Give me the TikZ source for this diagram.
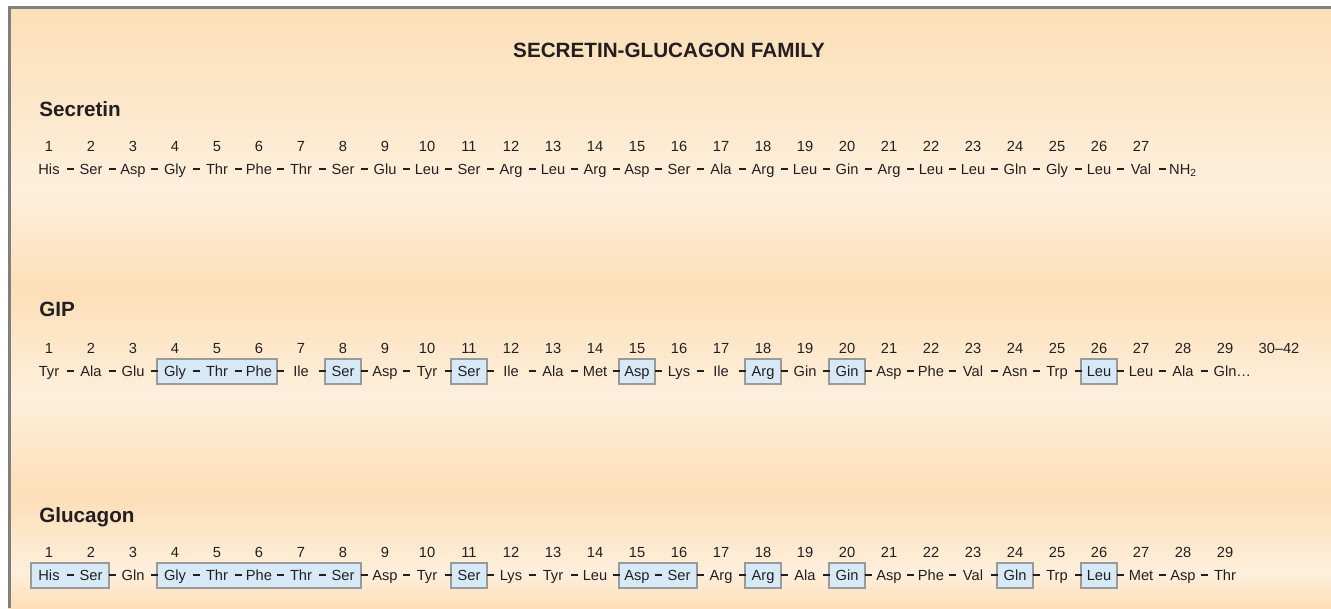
\documentclass[tikz,border=0pt]{standalone}
\usepackage{fontspec}
\setmainfont{Liberation Sans}
\usetikzlibrary{calc, backgrounds}
\definecolor{framegray}{HTML}{7F7F7F}
\definecolor{peachdark}{HTML}{FCDFB7}
\definecolor{peachlight}{HTML}{FEEFDC}
\definecolor{ink}{HTML}{231F20}
\definecolor{boxblue}{HTML}{D7E9F7}
\definecolor{boxline}{HTML}{9A9A9A}

\begin{document}
\begin{tikzpicture}[
    x=0.75pt, y=-0.75pt,
    font=\fontsize{11}{13}\selectfont,
    text=ink,
    % Styles
    familytitle/.style={
        font=\fontsize{15.5}{18}\selectfont\bfseries,
        anchor=base,
        inner sep=0pt
    },
    peptide/.style={
        font=\fontsize{15.5}{18}\selectfont\bfseries,
        anchor=base west,
        inner sep=0pt
    },
    posnum/.style={anchor=base, inner sep=0pt},
    residue/.style={anchor=base, inner sep=0pt},
    bond/.style={draw=ink, line width=1.4pt},
    homolog/.style={
        draw=boxline,
        fill=boxblue,
        line width=0.9pt
    },
    band/.style={draw=none}
]
    \useasboundingbox (0,0) rectangle (1331,608);

    % ================= TITLE =================
    \node[familytitle] (title) at (669,57) {SECRETIN-GLUCAGON FAMILY};

    % ================= SECRETIN =================
    \node[peptide] (secretin) at (39,116) {Secretin};
    \foreach \res [count=\i] in {His,Ser,Asp,Gly,Thr,Phe,Thr,Ser,Glu,Leu,Ser,Arg,Leu,Arg,Asp,Ser,Ala,Arg,Leu,Gin,Arg,Leu,Leu,Gln,Gly,Leu,Val} {
        \node[posnum] (ns\i) at ({49+(\i-1)*42},151) {\i};
        \node[residue] (s\i) at ({49+(\i-1)*42},174) {\res};
    }
    \node[residue] (s28) at (1183,174) {NH\textsubscript{2}};

    % ================= GIP =================
    \node[peptide] (gip) at (39,316) {GIP};
    \foreach \res [count=\i] in {Tyr,Ala,Glu,Gly,Thr,Phe,Ile,Ser,Asp,Tyr,Ser,Ile,Ala,Met,Asp,Lys,Ile,Arg,Gin,Gin,Asp,Phe,Val,Asn,Trp,Leu,Leu,Ala} {
        \node[posnum] (ng\i) at ({49+(\i-1)*42},353) {\i};
        \node[residue] (g\i) at ({49+(\i-1)*42},376) {\res};
    }
    \node[posnum] (ng29) at (1225,353) {29};
    \node[residue] (g29) at (1225,376) {Gln\rlap{…}};
    \node[posnum] (ng30) at (1279,353) {30–42};

    % ================= GLUCAGON =================
    \node[peptide] (glucagon) at (39,522) {Glucagon};
    \foreach \res [count=\i] in {His,Ser,Gln,Gly,Thr,Phe,Thr,Ser,Asp,Tyr,Ser,Lys,Tyr,Leu,Asp,Ser,Arg,Arg,Ala,Gin,Asp,Phe,Val,Gln,Trp,Leu,Met,Asp,Thr} {
        \node[posnum] (nc\i) at ({49+(\i-1)*42},557) {\i};
        \node[residue] (c\i) at ({49+(\i-1)*42},580) {\res};
    }

    % ================= PEPTIDE BONDS =================
    \foreach \i [evaluate=\i as \j using int(\i+1)] in {1,...,27} {
        \draw[bond] ($(s\i.base)!0.5!(s\j.base)+(-3.5,-4.7)$) -- ++(7,0);
    }
    \foreach \i [evaluate=\i as \j using int(\i+1)] in {1,...,28} {
        \draw[bond] ($(g\i.base)!0.5!(g\j.base)+(-3.5,-4.7)$) -- ++(7,0);
        \draw[bond] ($(c\i.base)!0.5!(c\j.base)+(-3.5,-4.7)$) -- ++(7,0);
    }

    % ================= BACKGROUND LAYER =================
    \begin{pgfonlayer}{background}
        % Paper bands
        \fill[band, top color=peachdark, bottom color=peachlight] (8,7) rectangle (1331,190);
        \fill[band, top color=peachlight, bottom color=peachdark] (8,190) rectangle (1331,290);
        \fill[band, top color=peachdark, bottom color=peachlight] (8,290) rectangle (1331,395);
        \fill[band, top color=peachlight, bottom color=peachdark] (8,395) rectangle (1331,495);
        \fill[band, top color=peachdark, bottom color=peachlight] (8,495) rectangle (1331,572);
        \fill[band, top color=peachlight, bottom color=peachdark] (8,572) rectangle (1331,608);
        \draw[framegray, line width=2.25pt] (9.5,608) -- (9.5,7) -- (1331,7);

        % Residues shared with secretin
        \foreach \a/\b in {4/6, 8/8, 11/11, 15/15, 18/18, 20/20, 26/26} {
            \draw[homolog] ($(g\a.base)+(-18,-17)$) rectangle ($(g\b.base)+(18,8)$);
        }
        \foreach \a/\b in {1/2, 4/8, 11/11, 15/16, 18/18, 20/20, 24/24, 26/26} {
            \draw[homolog] ($(c\a.base)+(-18,-17)$) rectangle ($(c\b.base)+(18,8)$);
        }
    \end{pgfonlayer}

\end{tikzpicture}
\end{document}
